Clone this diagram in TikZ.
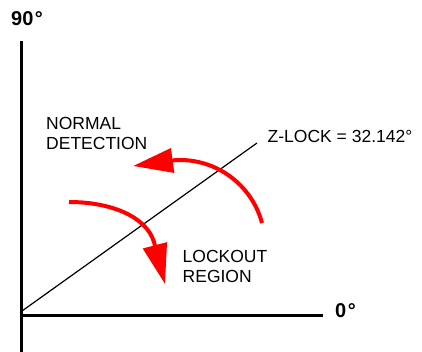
\documentclass[tikz,border=0pt]{standalone}
\usepackage{fontspec}
\setmainfont{Liberation Sans}
\usetikzlibrary{arrows.meta}
\tikzset{
  axis/.style={line width=3pt},
  zline/.style={line width=1.2pt},
  redarc/.style={draw=red, line width=4pt, -{Triangle[length=40pt,width=24pt]}},
  lbl/.style={inner sep=0pt, anchor=base west, align=left, font=\fontsize{17.5}{20}\selectfont},
  axlbl/.style={inner sep=0pt, anchor=base west, font=\fontsize{20}{24}\selectfont\bfseries}
}
\begin{document}
\begin{tikzpicture}[x=1pt,y=1pt]
\useasboundingbox (0,0) rectangle (422,352);
% axes
\coordinate (O) at (21.5,36.3);
\coordinate (ytop) at (21.5,311);
\coordinate (ybot) at (21.5,0);
\coordinate (xend) at (323,36.3);
\draw[axis] (ytop) -- (ybot);
\draw[axis] (O) -- (xend);
% z-lock line
\coordinate (dstart) at (22,41);
\coordinate (dend) at (257,209);
\draw[zline] (dstart) -- (dend);
% labels
\node[axlbl] (l90) at (11,326) {90\kern1.5pt°};
\node[axlbl] (l0) at (335,34.3) {0\kern1.5pt°};
\node[lbl] (zlock) at (267.5,209.7) {Z-LOCK = 32.142°};
\node[lbl] (normal) at (46,202.7) {NORMAL\\DETECTION};
\node[lbl] (lockout) at (182.5,69.3) {LOCKOUT\\REGION};
% red arrows
\coordinate (ua) at (262,129);
\coordinate (ut) at (133,186);
\draw[redarc] (ua) arc[start angle=15, end angle=93, radius=85] -- (ut);
\coordinate (la) at (69,150);
\coordinate (lt) at (165,68);
\draw[redarc] (la) .. controls (110,150) and (146,136) .. (154,110) -- (lt);
\end{tikzpicture}
\end{document}
